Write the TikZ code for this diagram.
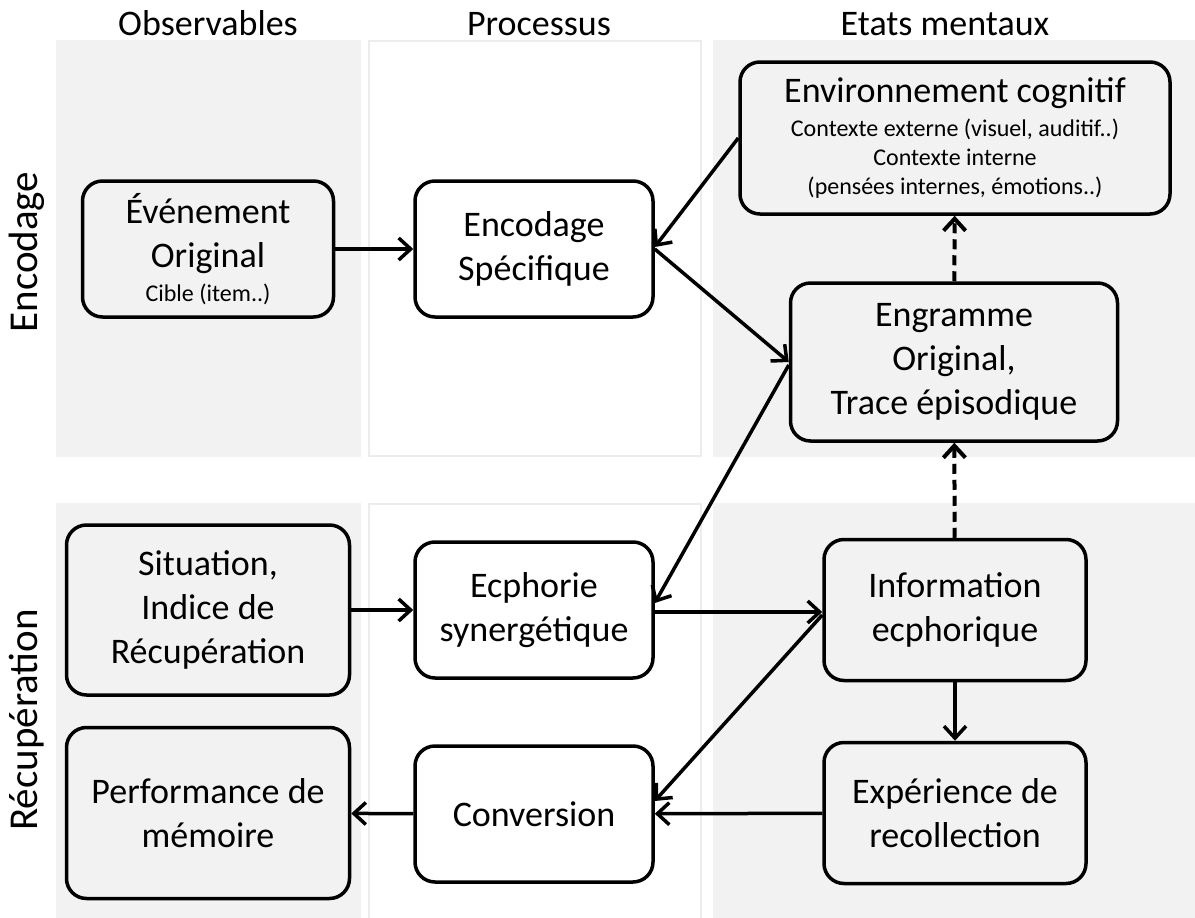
\documentclass[tikz,border=0pt]{standalone}
\usepackage{fontspec}
\setmainfont{Carlito}
\usetikzlibrary{arrows.meta}

\definecolor{fondgris}{HTML}{F2F2F2}
\definecolor{bordgris}{HTML}{ECECEC}

\newcommand\grand{\fontsize{36}{44}\selectfont}
\newcommand\petit{\fontsize{24}{29}\selectfont}
\newcommand\titre{\fontsize{36}{40}\selectfont}
\newcommand\phase{\fontsize{41}{46}\selectfont}

\tikzset{
  panneau/.style={fill=fondgris, draw=none},
  panneaublanc/.style={fill=white, draw=bordgris, line width=2.5pt},
  boite/.style={draw, line width=3.5pt, rounded corners=20pt, align=center,
    font=\grand, inner sep=0pt},
  grise/.style={boite, fill=fondgris},
  blanche/.style={boite, fill=white},
  fleche/.style={line width=3.5pt, -{Straight Barb[length=12pt,width=22pt]}},
  pointille/.style={fleche, line width=4pt, dash pattern=on 10pt off 6pt}
}

\begin{document}
\begin{tikzpicture}[x=1pt,y=-1pt]

        \useasboundingbox (0,0) rectangle (1195,918);

        % colonnes
        \fill[panneau] (56,40) rectangle (361,457);
        \fill[panneau] (56,503) rectangle (361,918);
        \draw[panneaublanc] (369,41) rectangle (701,456);
        \draw[panneaublanc] (369,504) rectangle (701,920);
        \fill[panneau] (713,40) rectangle (1195,457);
        \fill[panneau] (713,503) rectangle (1195,918);

        % titres
        \node[font=\titre, anchor=base] (obs) at (208,35) {Observables};
        \node[font=\titre, anchor=base] (proc) at (539,35) {Processus};
        \node[font=\titre, anchor=base] (etats) at (945,35) {Etats mentaux};
        \node[font=\phase, rotate=90] (phaseenc) at (27,252) {Encodage};
        \node[font=\phase, rotate=90] (phaserec) at (27,720) {Récupération};

        \begin{scope}[every node/.style={minimum width=238pt, minimum height=136pt}]
          \node[grise, minimum width=251pt] (evt) at (208,249)
            {Événement\\Original\\[-10pt]{\petit Cible (item..)}};
          \node[blanche] (enc) at (534,249) {Encodage\\Spécifique};
          \node[grise, minimum width=430pt, minimum height=152pt] (env) at (955,138)
            {Environnement cognitif\\[-10pt]{\petit Contexte externe (visuel, auditif..)}\\[-15pt]
             {\petit Contexte interne}\\[-15pt]{\petit (pensées internes, émotions..)}};
          \node[grise, minimum width=327pt, minimum height=158pt] (eng) at (954,362)
            {Engramme\\Original,\\Trace épisodique};
          \node[grise, minimum width=283pt, minimum height=170pt] (sit) at (208,610)
            {Situation,\\Indice de\\Récupération};
          \node[grise, minimum width=283pt, minimum height=171pt] (perf) at (208,813)
            {Performance de\\mémoire};
          \node[blanche] (ecph) at (534,610) {Ecphorie\\synergétique};
          \node[blanche] (conv) at (534,814) {Conversion};
          \node[grise, minimum width=262pt, minimum height=141pt] (info) at (955,610)
            {Information\\ecphorique};
          \node[grise, minimum width=262pt, minimum height=141pt] (exp) at (955,813)
            {Expérience de\\recollection};
        \end{scope}

        \begin{scope}[every edge/.style={draw, fleche}]
          \path (evt)  edge (enc);
          \path (env.west) edge ([yshift=2pt]enc.east);
          \path (enc.east) edge (eng.west);
          \path ([yshift=-3pt]eng.west) edge ([yshift=7pt]ecph.east);
          \path (sit)  edge (ecph);
          \path ([yshift=-2pt]ecph.east) edge ([yshift=-2pt]info.west);
          \path ([yshift=-5pt]info.west) edge ([yshift=13pt]conv.east);
          \path (info) edge (exp);
          \path (exp)  edge (conv);
          \path (conv) edge (perf);
        \end{scope}

        \begin{scope}[every edge/.style={draw, pointille}]
          \path (info) edge (eng);
          \path (eng)  edge (env);
        \end{scope}

      \end{tikzpicture}
\end{document}
